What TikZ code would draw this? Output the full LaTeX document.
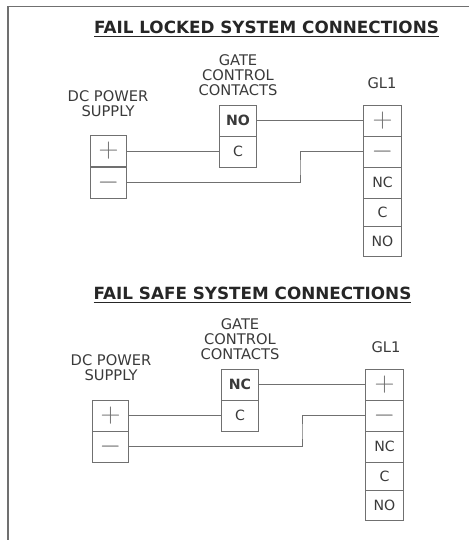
\documentclass[tikz,border=0pt]{standalone}
\usepackage{fontspec}
\setmainfont{DejaVu Sans}
\definecolor{wire}{HTML}{707070}
\definecolor{ink}{HTML}{3A3A3A}
\tikzset{
  cell/.style={draw=wire, line width=0.6pt, inner sep=0pt, minimum width=27.5pt, minimum height=23.25pt, text=ink, font=\fontsize{10.6}{10.6}\selectfont},
  tallcell/.style={cell, minimum width=29pt},
  sign/.style={font=\fontsize{21}{21}\selectfont, text=wire},
  caption/.style={align=center, text=ink, inner sep=0pt, font=\fontsize{11}{11.25}\selectfont},
  heading/.style={inner sep=0pt, text=black!85, font=\bfseries\fontsize{12.6}{14}\selectfont},
  conn/.style={draw=wire, line width=0.6pt}
}
\begin{document}
\begin{tikzpicture}[x=0.75pt, y=-0.75pt]
      \useasboundingbox (0,0) rectangle (469,540);
      \draw[wire, line width=1pt] (469,6.5) -- (8,6.5) -- (8,540);

      % fail locked
      \node[heading] (lockedtitle) at (266.5,29) {\underline{FAIL LOCKED SYSTEM CONNECTIONS}};
      \node[caption] (lockedgate) at (238,75) {GATE\\CONTROL\\CONTACTS};
      \node[caption] (lockeddc) at (108,104) {DC POWER\\SUPPLY};
      \node[caption] (lockedgl) at (382,83) {GL1};
      \node[cell, sign] (lockeddcplus) at (108.5,151) {$+$};
      \node[cell, sign] (lockeddcminus) at (108.5,182.5) {$-$};
      \node[cell] (lockedno) at (238,120.5) {\textbf{NO}};
      \node[cell] (lockedc) at (238,151.5) {C};
      \node[tallcell, sign] (lockedglplus) at (382.5,120.5) {$+$};
      \node[tallcell, sign] (lockedglminus) at (382.5,151.5) {$-$};
      \node[tallcell] (lockedglnc) at (382.5,182.5) {NC};
      \node[tallcell, minimum height=21pt] (lockedglc) at (382.5,212) {C};
      \node[tallcell, minimum height=22.5pt] (lockedglno) at (382.5,241) {NO};
      \coordinate (lockedjog) at (300,168);
      \draw[conn] (lockedno) -- (lockedglplus);
      \draw[conn] (lockeddcplus.east) -- (lockedc.west |- lockeddcplus.east);
      \draw[conn] (lockeddcminus) -| (lockedjog) |- (lockedglminus);

      % fail safe
      \node[heading] (safetitle) at (252.5,295) {\underline{FAIL SAFE SYSTEM CONNECTIONS}};
      \node[caption] (safegate) at (240,339) {GATE\\CONTROL\\CONTACTS};
      \node[caption] (safedc) at (111,368) {DC POWER\\SUPPLY};
      \node[caption] (safegl) at (386,347) {GL1};
      \node[cell, sign] (safedcplus) at (110.5,415.5) {$+$};
      \node[cell, sign] (safedcminus) at (110.5,446.5) {$-$};
      \node[cell] (safenc) at (240,384.5) {\textbf{NC}};
      \node[cell] (safec) at (240,415.5) {C};
      \node[tallcell, sign] (safeglplus) at (384.5,384.5) {$+$};
      \node[tallcell, sign] (safeglminus) at (384.5,415.5) {$-$};
      \node[tallcell] (safeglnc) at (384.5,446.5) {NC};
      \node[tallcell, minimum height=21pt] (safeglc) at (384.5,476) {C};
      \node[tallcell, minimum height=22.5pt] (safeglno) at (384.5,505) {NO};
      \coordinate (safejog) at (302,432);
      \draw[conn] (safenc) -- (safeglplus);
      \draw[conn] (safedcplus) -- (safec);
      \draw[conn] (safedcminus) -| (safejog) |- (safeglminus);
\end{tikzpicture}
\end{document}
